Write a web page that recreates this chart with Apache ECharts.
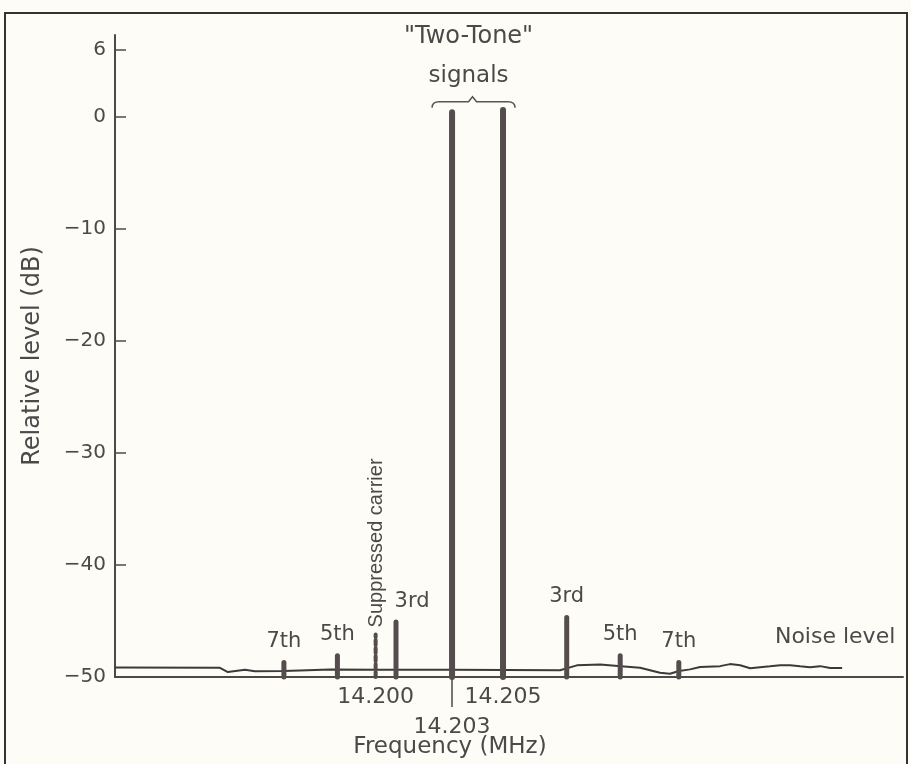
<!DOCTYPE html>
<html>
<head>
<meta charset="utf-8">
<title>Two-Tone test spectrum</title>
<script src="https://cdn.jsdelivr.net/npm/echarts@6/dist/echarts.min.js"></script>
<style>
  html, body { margin: 0; padding: 0; background: #fdfcf6; }
  #chart { width: 911px; height: 764px; }
</style>
</head>
<body>
<div id="chart"></div>
<script>
// axis ranges and ticks
const xRange = [14.18977, 14.2207]
const levelRange = [-50, 7.3]
const freqTicks = [14.200, 14.205]
const lowFreqTick = [14.203]
const levelTicks = [-50, -40, -30, -20, -10, 0, 6]

// spectral lines (MHz, dB)
const barNames = ['7th', '5th', 'Suppressed carrier', '3rd', 'tone1', 'tone2', '3rd', '5th', '7th']
const barFreq = [14.1964, 14.1985, 14.2000, 14.2008, 14.2030, 14.2050, 14.2075, 14.2096, 14.2119]
const barLevel = [-48.7, -48.1, -46.2, -45.1, 0.4, 0.6, -44.7, -48.1, -48.7]

// the two tones
const toneFreq = [14.203, 14.205]

// noise floor trace
const noiseFreq = [14.18977, 14.19389, 14.19420, 14.19487, 14.19526, 14.19636, 14.19703, 14.19821,
  14.20005, 14.20292, 14.20508, 14.20724, 14.20790, 14.20881, 14.20963, 14.21038, 14.21116,
  14.21155, 14.21191, 14.21234, 14.21274, 14.21352, 14.21391, 14.21431, 14.21470, 14.21509,
  14.21548, 14.21588, 14.21627, 14.21666, 14.21705, 14.21745, 14.21784, 14.21831]
const noiseLevel = [-49.15, -49.18, -49.56, -49.35, -49.48, -49.46, -49.41, -49.34,
  -49.35, -49.35, -49.37, -49.4, -48.96, -48.88, -49.03, -49.17, -49.62,
  -49.71, -49.46, -49.32, -49.11, -49.03, -48.85, -48.95, -49.22, -49.12,
  -49.04, -48.95, -48.95, -49.04, -49.12, -49.03, -49.2, -49.2]

const FONT = 'DejaVu Sans'
const TXT = '#4a4a4a'
const INK = '#3a3a3a'
const BAR = '#554d4d'

const chart = echarts.init(document.getElementById('chart'), null, {renderer: 'canvas'})

function fmtLevel(v) {
  return v < 0 ? '\u2212' + Math.abs(v) : String(v)
}

function renderBar(params, api) {
  const i = params.dataIndex
  const f = api.value(0)
  const lv = api.value(1)
  const base = api.coord([f, levelRange[0]])
  const top = api.coord([f, lv])
  const name = barNames[i]
  const children = []
  const isTone = name.indexOf('tone') === 0
  const isCarrier = name === 'Suppressed carrier'
  children.push({
    type: 'line',
    shape: {x1: base[0], y1: base[1], x2: top[0], y2: top[1]},
    style: {
      stroke: BAR,
      lineWidth: isCarrier ? 4 : (isTone ? 6 : 5),
      lineDash: isCarrier ? [5, 3] : null,
      lineCap: 'round'
    }
  })
  if (isCarrier) {
    children.push({
      type: 'text',
      x: top[0] + 1,
      y: top[1] - 7,
      rotation: Math.PI / 2,
      style: {text: name, fontSize: 20, fontFamily: 'Liberation Sans', fill: TXT, align: 'left', verticalAlign: 'middle'}
    })
  } else if (!isTone) {
    // left 3rd-order label sits off to the right of its line
    const dx = (i === 3) ? 16 : 0
    children.push({
      type: 'text',
      x: top[0] + dx,
      y: top[1] - 21,
      style: {text: name, fontSize: 21, fontFamily: FONT, fill: TXT, align: 'center', verticalAlign: 'middle'}
    })
  }
  return {type: 'group', children: children}
}

function renderBrace(params, api) {
  const p1 = api.coord([api.value(0), 0])
  const p2 = api.coord([api.value(1), 0])
  const xl = p1[0] - 20
  const xr = p2[0] + 12
  const xm = (p1[0] + p2[0]) / 2 - 5
  const y = p1[1] - 15
  const path = 'M' + xl + ' ' + (y + 6) + ' Q' + xl + ' ' + y + ' ' + (xl + 7) + ' ' + y +
    ' L' + (xm - 4) + ' ' + y + ' L' + xm + ' ' + (y - 5) + ' L' + (xm + 4) + ' ' + y +
    ' L' + (xr - 7) + ' ' + y + ' Q' + xr + ' ' + y + ' ' + xr + ' ' + (y + 6)
  return {
    type: 'group',
    children: [
      {type: 'path', shape: {pathData: path}, style: {stroke: '#555', lineWidth: 1.5, fill: null}},
      {type: 'text', x: xm - 4, y: p1[1] - 80,
        style: {text: '"Two-Tone"', fontSize: 24, fontFamily: FONT, fill: TXT, align: 'center', verticalAlign: 'middle'}},
      {type: 'text', x: xm - 4, y: p1[1] - 41,
        style: {text: 'signals', fontSize: 23, fontFamily: FONT, fill: TXT, align: 'center', verticalAlign: 'middle'}}
    ]
  }
}

const lastNoise = noiseFreq.length - 1

chart.setOption({
  backgroundColor: '#fdfcf6',
  animation: false,
  graphic: [{
    type: 'rect',
    shape: {x: 5, y: 13, width: 902, height: 780},
    style: {fill: null, stroke: '#333', lineWidth: 2},
    silent: true
  }],
  grid: {left: 115, right: 8, top: 35, bottom: 87, containLabel: false, outerBoundsMode: 'none'},
  xAxis: [{
    type: 'value',
    min: xRange[0],
    max: xRange[1],
    name: 'Frequency (MHz)',
    nameLocation: 'middle',
    nameGap: 59,
    nameTextStyle: {fontSize: 23, fontFamily: FONT, color: TXT, padding: [0, 118, 0, 0]},
    axisLine: {onZero: false, lineStyle: {color: '#4a4a4a', width: 2}},
    splitLine: {show: false},
    axisTick: {show: true, customValues: lowFreqTick, length: 30, lineStyle: {color: '#4a4a4a', width: 1.5}},
    axisLabel: {
      customValues: freqTicks,
      hideOverlap: false,
      fontSize: 22,
      fontFamily: FONT,
      color: TXT,
      margin: 9,
      formatter: v => Number(v).toFixed(3)
    }
  }, {
    // second row of frequency labels, dropped below the first
    type: 'value',
    min: xRange[0],
    max: xRange[1],
    position: 'bottom',
    offset: 30,
    axisLine: {show: false},
    splitLine: {show: false},
    axisTick: {show: false},
    axisLabel: {
      customValues: lowFreqTick,
      fontSize: 22,
      fontFamily: FONT,
      color: TXT,
      margin: 9,
      formatter: v => Number(v).toFixed(3)
    }
  }],
  yAxis: {
    type: 'value',
    min: levelRange[0],
    max: levelRange[1],
    name: 'Relative level (dB)',
    nameLocation: 'middle',
    nameGap: 70,
    nameTextStyle: {fontSize: 24, fontFamily: FONT, color: TXT},
    axisLine: {show: true, lineStyle: {color: '#4a4a4a', width: 2}},
    splitLine: {show: false},
    axisTick: {show: true, inside: true, length: 11, customValues: levelTicks.slice(1), lineStyle: {color: '#4a4a4a', width: 1.5}},
    axisLabel: {
      customValues: levelTicks,
      fontSize: 20,
      fontFamily: FONT,
      color: TXT,
      margin: 9,
      formatter: fmtLevel
    }
  },
  series: [
    {
      name: 'noise',
      type: 'line',
      data: noiseFreq.map((f, i) => [f, noiseLevel[i]]),
      symbol: 'none',
      lineStyle: {color: INK, width: 2},
      z: 2,
      markPoint: {
        symbol: 'circle',
        symbolSize: 0,
        label: {show: true, position: 'top', distance: 20, offset: [-7, 0], formatter: 'Noise level',
          fontSize: 22, fontFamily: FONT, color: TXT},
        data: [{coord: [noiseFreq[lastNoise], noiseLevel[lastNoise]]}]
      }
    },
    {
      name: 'lines',
      type: 'custom',
      renderItem: renderBar,
      data: barFreq.map((f, i) => [f, barLevel[i]]),
      z: 3
    },
    {
      name: 'brace',
      type: 'custom',
      renderItem: renderBrace,
      data: [[toneFreq[0], toneFreq[1]]],
      z: 3
    }
  ]
})
</script>
</body>
</html>
